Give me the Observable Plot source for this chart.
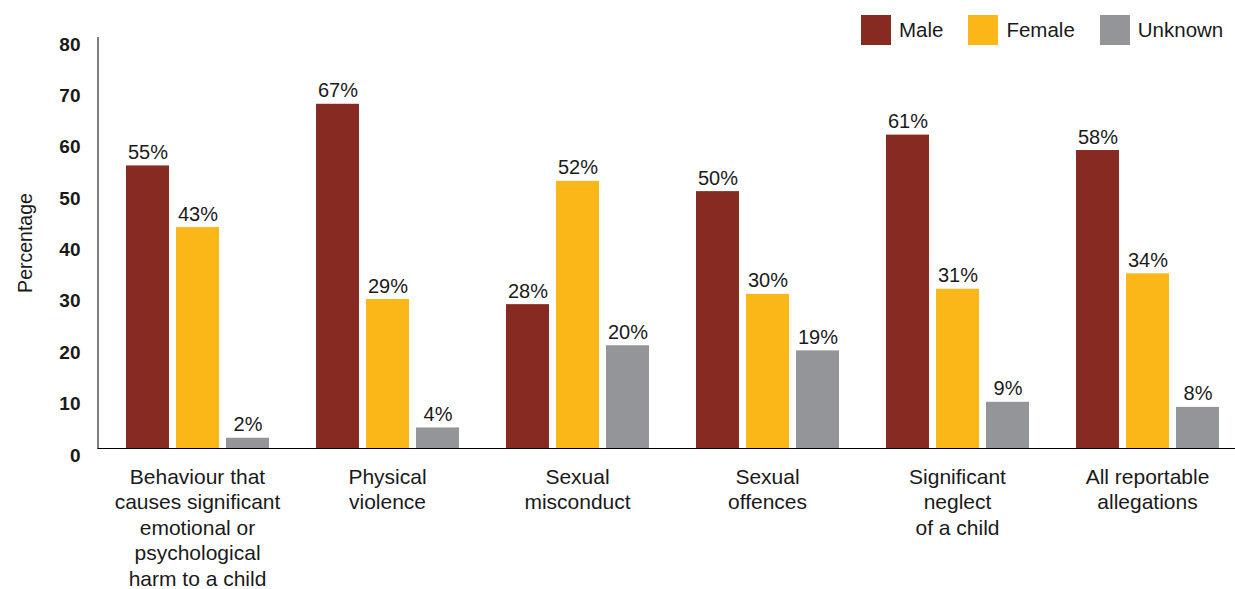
<!DOCTYPE html>
<html>
<head>
<meta charset="utf-8">
<script src="https://cdn.jsdelivr.net/npm/d3@7"></script>
<script src="https://cdn.jsdelivr.net/npm/@observablehq/plot@0.6"></script>
<style>
  html, body { margin: 0; padding: 0; background: #fff; }
  #wrap { position: relative; width: 1235px; height: 589px; font-family: "Liberation Sans", Arial, Helvetica, sans-serif; }
  #wrap svg { position: absolute; left: 0; top: 0; }
  #legend { position: absolute; left: 861px; top: 15px; display: flex; gap: 25px; font-size: 20.5px; color: #1a1a1a; z-index: 2; }
  #legend .item { display: flex; align-items: center; height: 30px; }
  #legend .sw { width: 30px; height: 30px; margin-right: 8px; }
  g[aria-label="y-axis label"] text { font-weight: normal; font-size: 19.5px; }
</style>
</head>
<body>
<div id="wrap"><div id="legend"></div></div>
<script>
const categories = [
  "Behaviour that\ncauses significant\nemotional or\npsychological\nharm to a child",
  "Physical\nviolence",
  "Sexual\nmisconduct",
  "Sexual\noffences",
  "Significant\nneglect\nof a child",
  "All reportable\nallegations"
];
const sexes = ["Male", "Female", "Unknown"];
const male = [55, 67, 28, 50, 61, 58];
const female = [43, 29, 52, 30, 31, 34];
const unknown = [2, 4, 20, 19, 9, 8];
const colors = ["#862a22", "#fbb617", "#949598"];
const yTicks = [0, 10, 20, 30, 40, 50, 60, 70, 80];

const series = [male, female, unknown];
const data = categories.flatMap((c, i) => sexes.map((s, j) => ({category: c, sex: s, value: series[j][i]})));

const chart = Plot.plot({
  width: 1235,
  height: 589,
  marginTop: 37,
  marginBottom: 141,
  marginLeft: 97,
  marginRight: 0,
  style: {fontFamily: "'Liberation Sans', Arial, Helvetica, sans-serif", fontSize: "17px", color: "#1a1a1a", background: "transparent"},
  fx: {domain: categories, range: [101.5, 1241.5], padding: 0, axis: null},
  x: {domain: sexes, paddingInner: 0.14, paddingOuter: 0.47, axis: null},
  y: {domain: [0, 80], axis: null},
  color: {domain: sexes, range: colors},
  marks: [
    Plot.barY(data, {fx: "category", x: "sex", y: "value", fill: "sex"}),
    Plot.text(data, {fx: "category", x: "sex", y: "value", text: d => d.value + "%", lineAnchor: "bottom", dy: -7, fontSize: 20, fill: "#1a1a1a"}),
    Plot.axisY({ticks: yTicks, tickSize: 0, tickPadding: 22, dy: 7, fontWeight: "bold", fontSize: 19, label: "Percentage", labelAnchor: "center", labelArrow: "none", labelOffset: 84}),
    Plot.axisFx({anchor: "bottom", tickSize: 0, tickPadding: 17, lineHeight: 1.214, fontSize: 21, label: null}),
    Plot.frame({anchor: "left", facet: "super", stroke: "#000", insetLeft: -4.5}),
    Plot.frame({anchor: "bottom", facet: "super", stroke: "#000", insetLeft: -4.5})
  ]
});
document.getElementById("wrap").appendChild(chart);

const legend = d3.select("#legend");
sexes.forEach((s, i) => {
  const it = legend.append("div").attr("class", "item");
  it.append("div").attr("class", "sw").style("background", colors[i]);
  it.append("span").text(s);
});
</script>
</body>
</html>
